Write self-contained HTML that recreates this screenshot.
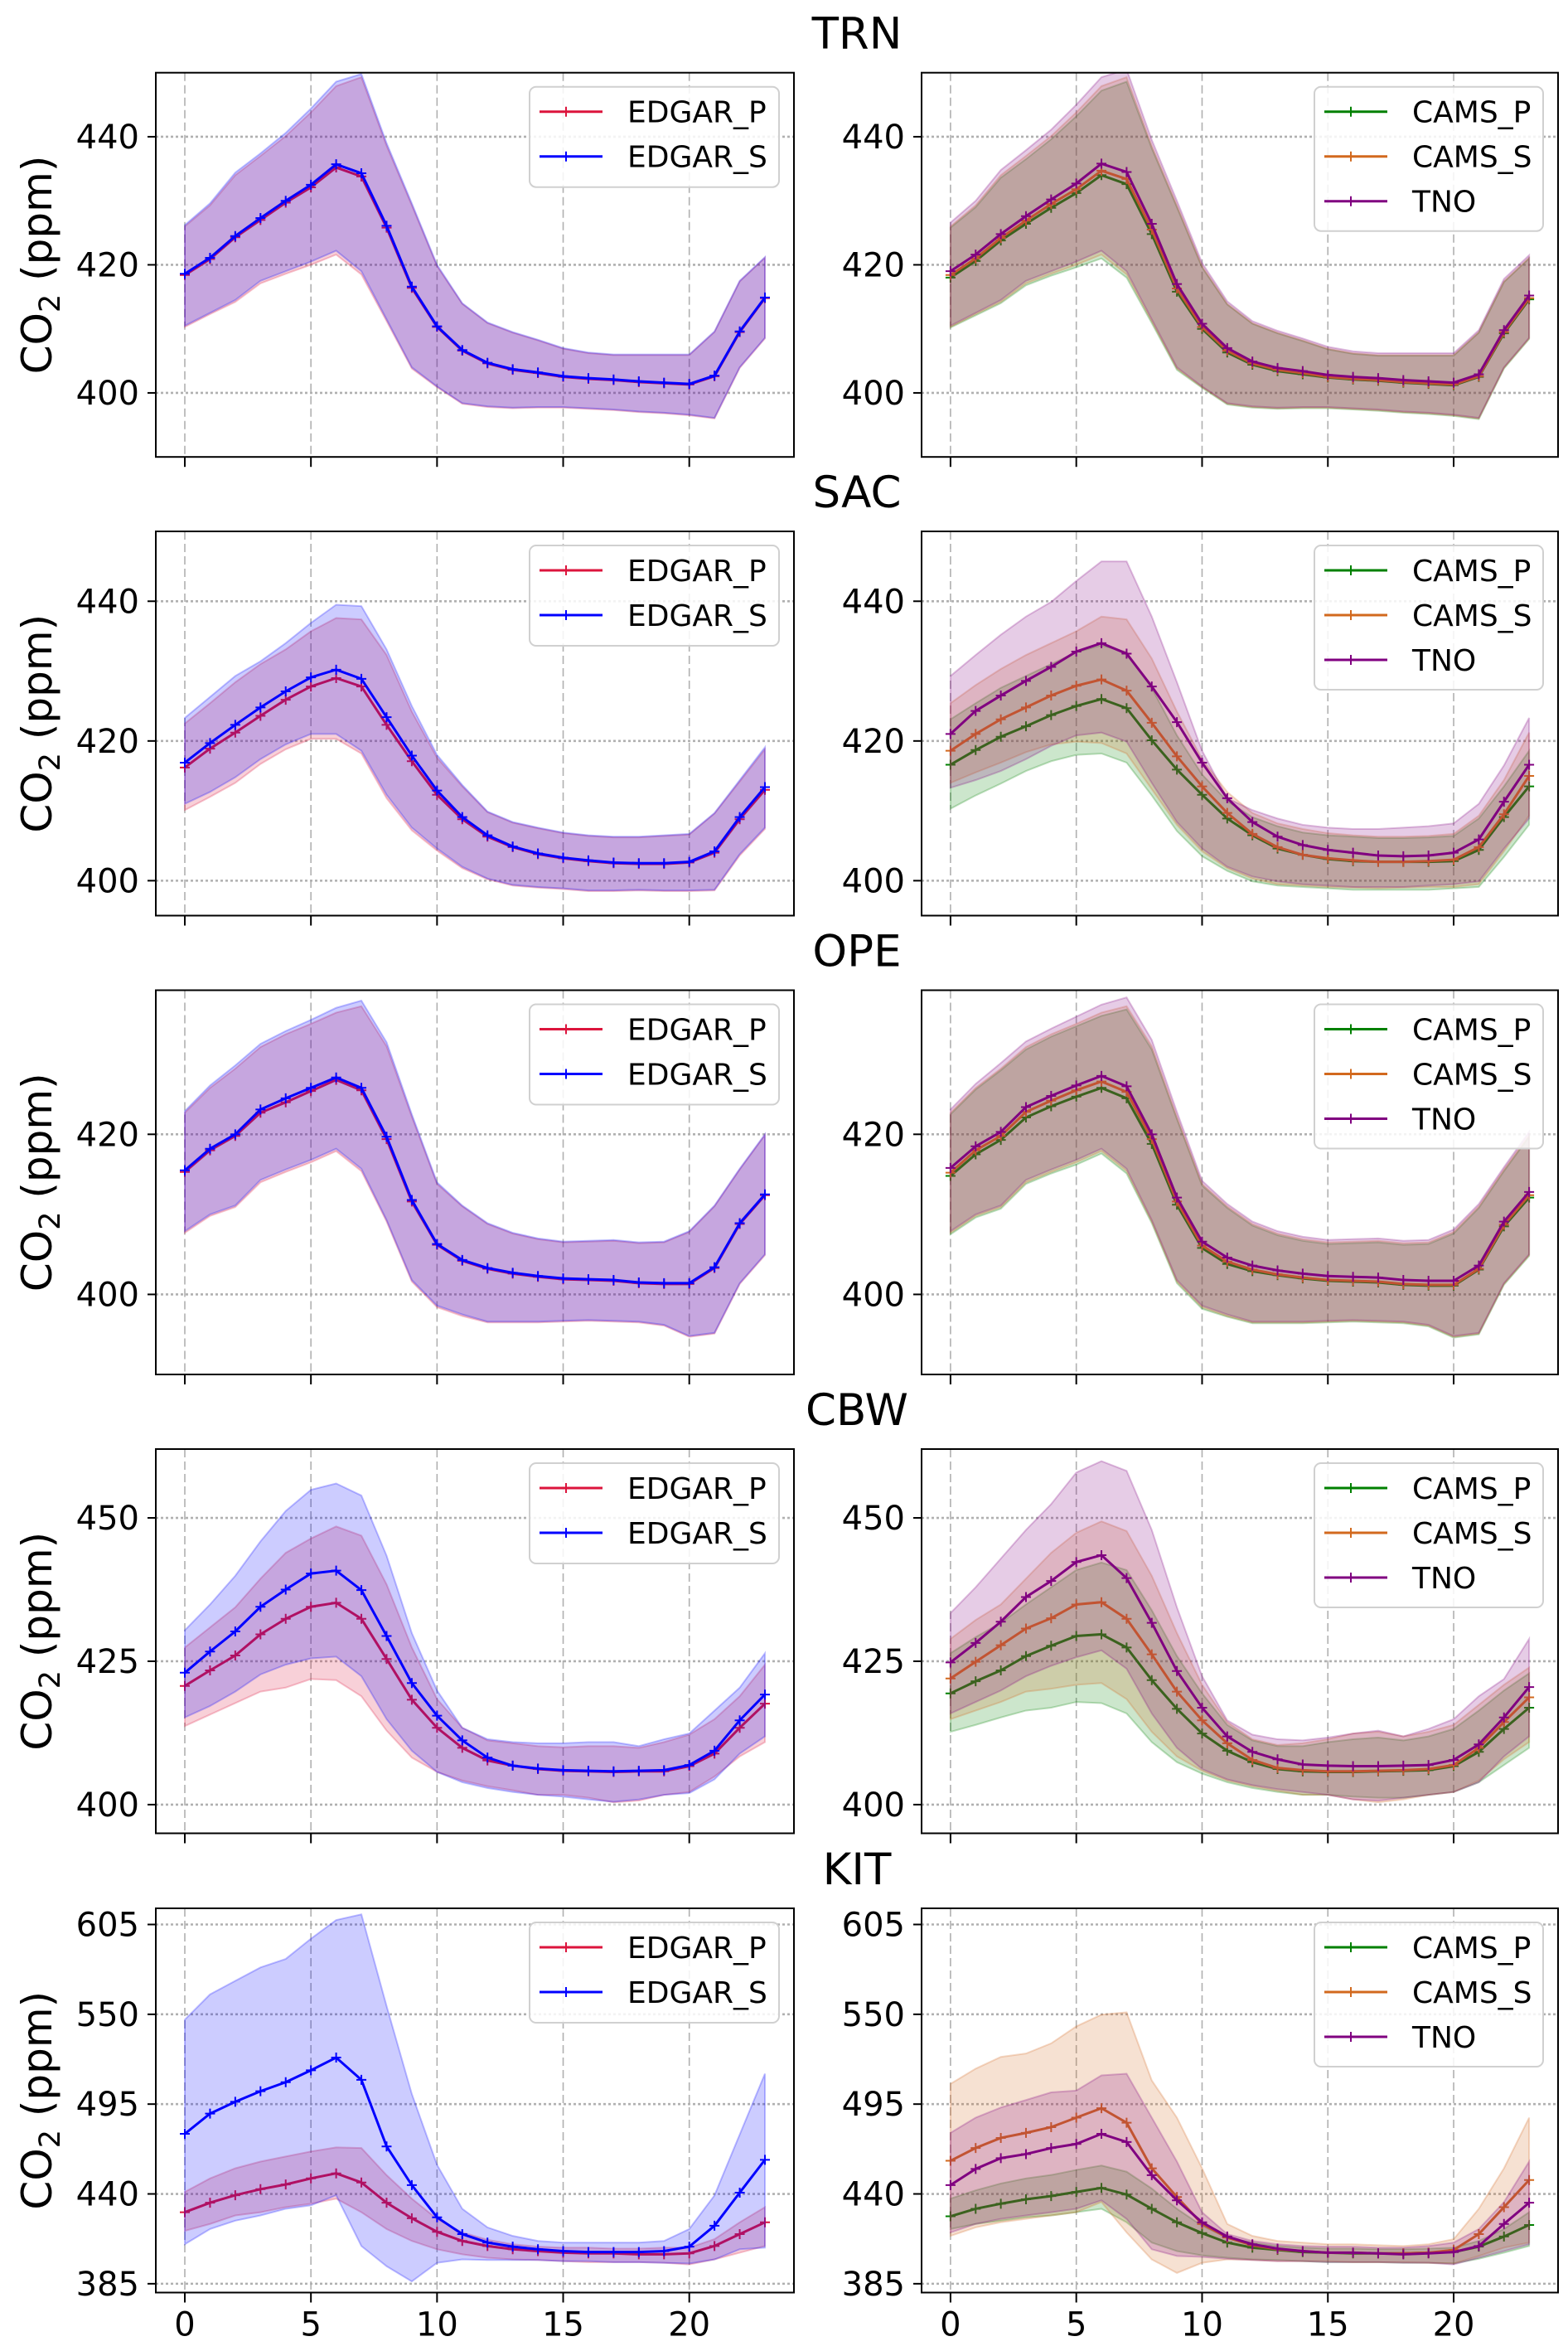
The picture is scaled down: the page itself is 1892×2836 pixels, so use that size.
<!DOCTYPE html>
<html><head><meta charset="utf-8"><title>CO2 diurnal cycles</title>
<style>
html,body{margin:0;padding:0;background:#fff;}
svg{display:block;font-family:"DejaVu Sans","Liberation Sans",sans-serif;}
</style></head>
<body>
<svg id="fig" xmlns="http://www.w3.org/2000/svg" width="1892" height="2836" viewBox="0 0 1892 2836">
<rect x="0" y="0" width="1892" height="2836" fill="#fff"/>
</svg>
<script>
const hours = [0,1,2,3,4,5,6,7,8,9,10,11,12,13,14,15,16,17,18,19,20,21,22,23];
const xTicks = [0,5,10,15,20];
const stationNames = ['TRN','SAC','OPE','CBW','KIT'];
const leftNames = ['EDGAR_P','EDGAR_S'];
const rightNames = ['CAMS_P','CAMS_S','TNO'];
const yTicksTRN = [400,420,440];
const yTicksSAC = [400,420,440];
const yTicksOPE = [400,420];
const yTicksCBW = [400,425,450];
const yTicksKIT = [385,440,495,550,605];
const yLimTRN = [390,450];
const yLimSAC = [395,450];
const yLimOPE = [390,438];
const yLimCBW = [395,462];
const yLimKIT = [379.6,614.9];

// TRN
const trn_ep = [418.4,420.9,424.3,427,429.7,432.1,435.2,433.8,425.8,416.4,410.3,406.6,404.6,403.6,403.1,402.5,402.2,402,401.7,401.5,401.3,402.6,409.5,414.8];
const trn_ep_hi = [426,429.3,434,437,440.1,443.8,447.9,449.3,438.6,429.3,419.8,413.9,410.9,409.4,408.2,406.9,406.2,405.9,405.9,405.9,405.9,409.5,417.4,421.1];
const trn_ep_lo = [410.3,412.3,414.2,417.1,418.6,420,421.6,418.5,411.2,403.8,400.9,398.3,397.8,397.6,397.7,397.7,397.5,397.3,397,396.8,396.5,396,403.9,408.5];
const trn_es = [418.6,421.1,424.5,427.3,430,432.5,435.7,434.3,426.1,416.6,410.4,406.7,404.7,403.7,403.2,402.6,402.3,402.1,401.8,401.6,401.4,402.7,409.6,414.9];
const trn_es_hi = [426.2,429.6,434.4,437.4,440.6,444.4,448.6,449.8,439,429.6,420,414,411,409.5,408.3,407,406.3,406,406,406,406,409.6,417.5,421.2];
const trn_es_lo = [410.5,412.5,414.5,417.5,419,420.5,422.2,419,411.5,404,401,398.4,397.9,397.7,397.8,397.8,397.6,397.4,397.1,396.9,396.6,396.1,404,408.6];
const trn_cp = [418,420.6,423.8,426.4,428.9,431.2,434,432.6,424.8,415.8,410,406.3,404.4,403.4,402.9,402.4,402.1,401.9,401.6,401.4,401.2,402.5,409.3,414.6];
const trn_cp_hi = [425.8,429,433.6,436.5,439.6,443.2,447.2,448.6,438.2,429,419.6,413.8,410.8,409.3,408.1,406.8,406.1,405.8,405.8,405.8,405.8,409.4,417.3,421];
const trn_cp_lo = [410.2,412.1,414,416.8,418.3,419.6,421,418,410.9,403.6,400.8,398.2,397.7,397.5,397.6,397.6,397.4,397.2,396.9,396.7,396.4,395.9,403.8,408.4];
const trn_cs = [418.4,421,424.2,426.9,429.5,431.8,434.7,433.4,425.5,416.3,410.3,406.6,404.6,403.6,403.1,402.5,402.2,402,401.7,401.5,401.3,402.6,409.5,414.8];
const trn_cs_hi = [426,429.3,434,437,440.1,443.8,447.9,449.3,438.6,429.3,419.8,413.9,410.9,409.4,408.2,406.9,406.2,405.9,405.9,405.9,405.9,409.5,417.4,421.1];
const trn_cs_lo = [410.3,412.3,414.2,417.1,418.6,420,421.6,418.5,411.2,403.8,400.9,398.3,397.8,397.6,397.7,397.7,397.5,397.3,397,396.8,396.5,396,403.9,408.5];
const trn_tno = [419,421.6,424.8,427.6,430.2,432.7,435.8,434.5,426.4,417,410.8,407,404.9,403.9,403.4,402.8,402.5,402.3,402,401.8,401.6,402.9,409.8,415.2];
const trn_tno_hi = [426.6,430,434.8,437.9,441.1,445,449.3,450.5,439.5,430,420.3,414.3,411.2,409.7,408.5,407.2,406.5,406.2,406.2,406.2,406.2,409.8,417.8,421.5];
const trn_tno_lo = [410.5,412.5,414.5,417.5,419,420.5,422.2,419,411.5,404,401,398.4,397.9,397.7,397.8,397.8,397.6,397.4,397.1,396.9,396.6,396.1,404,408.6];

// SAC
const sac_ep = [416.2,418.9,421.2,423.6,425.9,427.8,429,427.8,422.3,417.1,412.3,408.8,406.3,404.8,403.8,403.2,402.8,402.5,402.4,402.4,402.6,404,408.8,413];
const sac_ep_hi = [422.5,425.4,428.4,431,433.1,435.7,437.6,437.4,432.3,424.2,417.6,413.5,409.8,408.3,407.5,406.8,406.4,406.2,406.2,406.4,406.6,409.6,414.2,418.8];
const sac_ep_lo = [410.1,412,414,416.7,418.8,420.3,420.3,418.2,411.8,407.2,404.3,401.8,400.2,399.3,399,398.8,398.5,398.5,398.6,398.5,398.5,398.6,403.6,407.4];
const sac_es = [416.9,419.7,422.3,424.8,427.1,429.1,430.2,428.9,423.4,417.9,412.9,409.1,406.5,404.9,403.9,403.3,402.9,402.6,402.5,402.5,402.7,404.2,409.1,413.4];
const sac_es_hi = [423.3,426.3,429.3,431.4,434,436.9,439.5,439.3,433.1,425,418,413.7,409.9,408.4,407.6,406.9,406.5,406.3,406.3,406.5,406.7,409.7,414.4,419.1];
const sac_es_lo = [411,412.7,414.8,417.4,419.5,421,421,418.6,412.3,407.6,404.6,402,400.3,399.4,399.1,398.9,398.6,398.6,398.7,398.6,398.6,398.7,403.8,407.6];
const sac_cp = [416.6,418.7,420.6,422.1,423.7,425,426,424.7,420.1,415.9,412.3,408.9,406.5,404.6,403.7,403.1,402.8,402.7,402.7,402.7,402.8,404.4,409.1,413.5];
const sac_cp_hi = [423.1,425.4,427.6,429.3,431,432.7,433.7,432.7,427.6,420.8,415.2,411.4,409.1,407.8,406.9,406.5,406.3,406.1,406.1,406.2,406.4,408.9,413.5,418.6];
const sac_cp_lo = [410.3,412.2,413.9,415.7,417.1,418,418.2,416.9,412.2,407.1,403.5,401.4,399.9,399.3,399.1,398.9,398.7,398.7,398.7,398.7,398.9,399.1,403.4,408];
const sac_cs = [418.6,421,423.1,424.8,426.5,427.9,428.8,427.2,422.6,417.8,413.5,409.7,406.7,404.8,403.7,403.2,402.9,402.7,402.7,402.8,403,404.8,409.5,415];
const sac_cs_hi = [425.4,428,430.3,432.3,434,435.7,437.8,437.4,431.8,424.2,417.4,412.7,409.7,408.2,407.4,406.8,406.5,406.3,406.3,406.4,406.7,409.3,414.4,421.2];
const sac_cs_lo = [414,415.5,416.9,418.4,419.5,419.9,419.7,418.2,413.1,408,404.2,401.8,400.3,399.5,399.3,399.1,399,398.9,399,399.1,399.1,399.5,404.2,409.3];
const sac_tno = [421,424.3,426.5,428.6,430.6,432.8,434,432.5,427.8,422.7,416.9,411.8,408.4,406.3,405.1,404.4,404,403.6,403.5,403.6,404,405.9,411.3,416.6];
const sac_tno_hi = [429.3,432.3,435.2,437.8,439.9,442.9,445.7,445.7,437.8,428.4,418.6,411.8,410.1,408.9,408,407.6,407.4,407.4,407.6,407.8,408.2,411,416.5,423.3];
const sac_tno_lo = [413.3,414.4,415.7,417.4,419.3,420.8,421.2,419.9,414,408.4,404.6,402,400.6,399.9,399.5,399.3,399.1,399.1,399.1,399.3,399.5,399.9,404.6,408.9];

// OPE
const ope_ep = [415.3,418,419.8,422.7,424,425.4,426.8,425.5,419.4,411.6,406.2,404.2,403.2,402.6,402.2,401.9,401.8,401.7,401.4,401.3,401.3,403.3,408.8,412.4];
const ope_ep_hi = [422.7,425.8,428.2,430.9,432.5,433.8,435.2,436,431,422.2,413.8,411,408.8,407.6,406.9,406.5,406.6,406.7,406.4,406.5,407.8,411,415.6,419.9];
const ope_ep_lo = [407.7,409.8,410.9,414,415.3,416.5,417.9,415.4,409.1,401.6,398.4,397.3,396.5,396.5,396.5,396.6,396.7,396.6,396.5,396.1,394.7,395.1,401.3,404.9];
const ope_es = [415.5,418.2,420,423.1,424.5,425.8,427.1,425.8,419.7,411.8,406.3,404.3,403.3,402.7,402.3,402,401.9,401.8,401.5,401.4,401.4,403.4,408.9,412.5];
const ope_es_hi = [422.9,426.1,428.6,431.3,432.9,434.3,435.8,436.7,431.5,422.5,414,411.1,408.9,407.7,407,406.6,406.7,406.8,406.5,406.6,407.9,411.1,415.7,420];
const ope_es_lo = [407.9,410,411.1,414.3,415.6,416.8,418.2,415.7,409.3,401.8,398.6,397.5,396.6,396.6,396.6,396.7,396.8,396.7,396.6,396.2,394.8,395.2,401.4,405];
const ope_cp = [414.8,417.5,419.3,422.1,423.5,424.7,425.8,424.5,418.8,411.2,405.8,403.8,402.9,402.4,402,401.7,401.6,401.5,401.2,401.1,401.1,403.1,408.5,412.1];
const ope_cp_hi = [422.5,425.6,428,430.6,432.2,433.5,434.8,435.6,430.6,421.9,413.6,410.8,408.6,407.4,406.7,406.3,406.4,406.5,406.2,406.3,407.6,410.8,415.4,419.7];
const ope_cp_lo = [407.5,409.6,410.7,413.8,415.1,416.2,417.6,415.1,408.9,401.4,398.2,397.2,396.4,396.4,396.4,396.5,396.6,396.5,396.4,396,394.6,395,401.2,404.8];
const ope_cs = [415.2,418,419.8,422.8,424.2,425.5,426.6,425.3,419.4,411.6,406.1,404.1,403.1,402.5,402.1,401.8,401.7,401.6,401.3,401.2,401.2,403.2,408.7,412.4];
const ope_cs_hi = [422.7,425.8,428.2,430.9,432.5,433.8,435.2,436,431,422.2,413.8,411,408.8,407.6,406.9,406.5,406.6,406.7,406.4,406.5,407.8,411,415.6,419.9];
const ope_cs_lo = [407.7,409.8,410.9,414,415.3,416.5,417.9,415.4,409.1,401.6,398.4,397.3,396.5,396.5,396.5,396.6,396.7,396.6,396.5,396.1,394.7,395.1,401.3,404.9];
const ope_tno = [415.8,418.5,420.3,423.4,424.8,426.1,427.3,426,420,412.1,406.6,404.6,403.6,403,402.6,402.3,402.2,402.1,401.8,401.7,401.7,403.6,409.1,412.8];
const ope_tno_hi = [423.1,426.3,428.9,431.6,433.2,434.7,436.2,437.1,431.8,422.8,414.2,411.3,409.1,407.9,407.2,406.8,406.9,407,406.7,406.8,408.1,411.3,415.9,420.3];
const ope_tno_lo = [407.9,410,411.1,414.3,415.6,416.8,418.2,415.7,409.3,401.8,398.6,397.5,396.6,396.6,396.6,396.7,396.8,396.7,396.6,396.2,394.8,395.2,401.4,405];

// CBW
const cbw_ep = [420.7,423.4,426,429.7,432.4,434.5,435.2,432.4,425.4,418.3,413.4,409.9,407.7,406.8,406.2,405.9,405.8,405.7,405.8,405.8,406.7,408.9,413.4,417.6];
const cbw_ep_hi = [427.4,430.9,434.4,439.4,443.9,446.4,448.5,446.9,438.4,427.4,418.4,413.4,411.2,410.7,410.2,410,410.2,410.2,409.9,410.9,412.2,414.9,418.9,424.4];
const cbw_ep_lo = [413.7,415.7,417.7,419.7,420.4,421.9,421.7,418.9,412.9,408.2,405.7,404.2,403.2,402.5,401.7,401.7,401.2,400.4,400.7,401.7,402.2,404.9,408.4,410.9];
const cbw_es = [423,426.7,430.2,434.5,437.5,440.3,440.8,437.4,429.4,421.2,415.5,411.2,408.2,406.8,406.3,406,405.9,405.8,405.9,406,406.9,409.4,414.7,419.2];
const cbw_es_hi = [430.4,434.9,439.9,445.9,451.2,454.9,456,453.9,443.4,429.9,419.9,413.4,411.4,410.9,410.7,410.7,410.9,410.9,410.2,411.4,412.4,416.4,420.4,426.4];
const cbw_es_lo = [415.2,417.2,419.7,422.7,424.4,425.5,425.8,422.4,414.9,409.4,405.7,403.9,402.9,402.2,401.7,401.4,400.9,400.5,400.9,401.7,402,404.4,408.9,411.9];
const cbw_cp = [419.4,421.5,423.4,425.9,427.7,429.4,429.7,427.4,421.7,416.7,412.4,409.4,407.4,406.2,405.8,405.7,405.7,405.8,405.9,406,406.7,409.2,413.2,416.9];
const cbw_cp_hi = [426.4,429.2,431.7,434.9,437.9,440.9,442.2,440.9,433.9,425.9,419.4,413.9,411.2,410.2,410.2,410.9,411.4,411.7,411.2,411.9,413.2,416.4,419.9,422.9];
const cbw_cp_lo = [412.7,413.9,415.2,416.4,416.9,417.9,417.7,415.9,410.9,407.4,405.4,403.9,402.9,402.2,401.7,401.7,401.4,401.2,401.2,401.7,402.2,403.9,406.9,409.9];
const cbw_cs = [422,424.9,427.8,430.7,432.5,434.9,435.3,432.4,426.2,419.7,414.7,410.7,407.8,406.4,406,405.8,405.8,405.9,406,406.2,406.9,409.9,414.4,418.7];
const cbw_cs_hi = [428.9,432.2,434.9,439.4,443.9,447.4,449.4,447.7,439.9,429.9,420.9,414.4,411.4,410.4,410.7,411.4,412.4,412.7,411.9,412.7,413.9,417.4,420.9,423.9];
const cbw_cs_lo = [414.9,416.4,417.9,419.7,420.2,420.9,421.2,418.4,412.7,408.4,405.9,404.2,403.2,402.4,401.7,401.7,400.9,400.4,400.9,401.7,402.2,404.2,407.9,410.9];
const cbw_tno = [424.8,428.2,431.9,436.2,439,442.3,443.5,439.5,431.7,423.3,416.9,411.9,409.2,407.9,407,406.8,406.7,406.7,406.8,406.9,407.8,410.5,415.2,420.5];
const cbw_tno_hi = [433.4,437.9,442.9,447.9,452.4,457.9,459.9,458.2,447.9,434.4,422.4,414.7,412.2,411.4,411.2,411.7,412.4,412.9,411.9,413.2,414.9,418.9,421.9,428.9];
const cbw_tno_lo = [415.9,417.9,419.9,422.4,424.2,425.7,426.9,423.7,415.9,409.9,406.2,404.4,403.4,402.7,402.2,401.7,400.9,400.7,401.2,401.7,402.2,403.9,408.4,411.9];

// KIT
const kit_ep = [428.8,434.6,439.2,442.9,445.8,449.5,452.6,447,434.6,425.1,416.8,411.2,408.1,406.1,405,404,403.6,403.6,403,403,403.6,408.1,415.4,422.6];
const kit_ep_hi = [441.2,449.5,455.7,459.8,462.9,466,468.5,468.1,451.5,437.1,424.7,416.4,411.9,409.2,407.7,407.1,407.1,406.5,406.5,407.1,407.1,412.3,422.6,431.9];
const kit_ep_lo = [417.4,421.6,426.8,428.8,431.9,434,437.1,428.8,418.5,411.2,406.1,403,400.9,399.9,399.5,398.8,398.2,398.2,398.2,397.8,396.8,399.9,404,408.1];
const kit_es = [476.8,489.2,496.4,502.9,508.4,515.7,523.5,509.9,469.1,445.4,425.7,415.4,410.2,407.7,406.1,405,404.4,404.4,404.4,405,407.7,420.5,440.8,460.9];
const kit_es_hi = [546.7,562.2,570.5,578.7,583.9,596.3,607.7,611.2,555,501.2,457.8,430.9,419.5,414.3,411.2,410.2,410.2,410.2,410.2,411.2,418.5,439.1,476.4,513.6];
const kit_es_lo = [409.2,418.5,423.6,426.8,430.9,433,439.2,408.1,395.7,386.4,397.8,399.9,399.5,399.5,399.5,398.8,398.8,398.2,398.2,397.8,397.4,399.9,406.1,407.1];
const kit_cp = [426.3,430.9,434,436.7,438.7,441.2,443.7,439.6,430.9,422.6,416,410.2,407.1,405.7,404.4,404,403.6,403.6,403.6,404,404.4,407.7,413.9,421];
const kit_cp_hi = [437.1,442.2,446.4,449.5,451.6,454.7,457.4,453.6,443.3,430.9,420.5,413.3,410.2,408.1,407.1,406.5,406.5,406.1,406.1,406.5,407.1,411.2,418.5,428.8];
const kit_cp_lo = [418.5,421.6,423.6,425.7,426.8,428.8,430.9,422.6,410.2,405,402.4,400.9,399.9,399.5,398.8,398.2,398.2,398.2,397.8,397.8,397.4,400.3,404,408.1];
const kit_cs = [460.3,468.1,474.3,477.4,480.9,486.7,492.5,483.6,455.7,438.1,421.6,413.3,408.6,406.1,405,404,404,403.6,403.6,404,405.7,415.4,431.9,448.5];
const kit_cs_hi = [507.4,516.7,523.9,526,532.2,542.6,549.8,551.2,509.5,486.7,455.7,421.6,414.3,411.2,410.2,409.2,409.2,408.6,408.1,409.2,412.3,430.9,455.7,486.7];
const kit_cs_lo = [414.3,419.5,422.6,424.7,426.8,428.8,435,416.4,399.9,391.6,397.8,399.9,399.5,398.8,398.8,398.8,398.2,398.2,398.2,397.8,397.4,402,407.1,410.2];
const kit_tno = [445.4,455.3,461.9,464.4,468.1,470.6,476.8,471.8,451.5,436.1,422.6,413.9,409.2,406.5,405,404,404,403.6,403,403.6,404.4,408.1,421.6,434.6];
const kit_tno_hi = [477.4,486.7,492.9,497.5,502.2,503.3,512.6,513.6,486.7,459.8,428.8,415.4,411.2,409.2,408.1,407.7,407.7,407.1,407.1,408.1,410.2,418.5,435,459.8];
const kit_tno_lo = [416.4,421.6,424.7,426.8,428.8,430.9,436.1,424.7,406.1,402,401.4,400.3,399.5,398.8,398.8,398.2,398.2,398.2,397.8,397.8,396.8,400.9,405,409.2];

const C_EP = '#dc143c', C_ES = '#0000ff', C_CP = '#008000', C_CS = '#d2691e', C_TNO = '#800080';
const SVGNS = 'http://www.w3.org/2000/svg';
const svg = document.getElementById('fig');
const XMIN = -1.15, XMAX = 24.15;
const LX0 = 188, LX1 = 958, RX0 = 1112, RX1 = 1880;
const rowTops = [87.7, 641, 1194.5, 1748, 2302];
const PH = 463.5;

function mk(tag, attrs, parent) {
  const e = document.createElementNS(SVGNS, tag);
  for (const k in attrs) e.setAttribute(k, attrs[k]);
  (parent || svg).appendChild(e);
  return e;
}

let clipId = 0;
function drawPanel(station, side, x0, x1, top, ylim, yticks, series, names, showX, showY) {
  const g = mk('g', {});
  
  
  const sx = v => x0 + (v - XMIN) / (XMAX - XMIN) * (x1 - x0);
  const sy = v => top + PH - (v - ylim[0]) / (ylim[1] - ylim[0]) * PH;
  const cid = 'clip' + (clipId++);
  const cp = mk('clipPath', {id: cid}, g);
  mk('rect', {x: x0, y: top, width: x1 - x0, height: PH}, cp);
  const grid = mk('g', {}, g);
  
  
  xTicks.forEach(t => {
    mk('line', {x1: sx(t), x2: sx(t), y1: top, y2: top + PH, stroke: '#b0b0b0', 'stroke-width': 1.6, 'stroke-dasharray': '10,5'}, grid);
  });
  yticks.forEach(t => {
    mk('line', {x1: x0, x2: x1, y1: sy(t), y2: sy(t), stroke: '#b0b0b0', 'stroke-width': 2.6, 'stroke-dasharray': '3,3'}, grid);
  });
  const data = mk('g', {'clip-path': 'url(#' + cid + ')'}, g);
  series.forEach((s, i) => {
    const pts = hours.map((h, k) => sx(h) + ',' + sy(s.hi[k])).concat(hours.slice().reverse().map((h, k) => sx(h) + ',' + sy(s.lo[hours.length - 1 - k])));
    const band = mk('polygon', {points: pts.join(' '), fill: s.color, 'fill-opacity': 0.2, stroke: s.color, 'stroke-opacity': 0.25, 'stroke-width': 2}, data);
    
    
    const line = mk('polyline', {points: hours.map((h, k) => sx(h) + ',' + sy(s.mean[k])).join(' '), fill: 'none', stroke: s.color, 'stroke-width': 3}, data);
    
    
    let d = '';
    hours.forEach((h, k) => { const px = sx(h), py = sy(s.mean[k]); d += 'M' + (px - 6) + ' ' + py + 'h12M' + px + ' ' + (py - 6) + 'v12'; });
    const mks = mk('path', {d: d, stroke: s.color, 'stroke-width': 2, fill: 'none'}, data);
    
    
  });
  const frame = mk('rect', {x: x0, y: top, width: x1 - x0, height: PH, fill: 'none', stroke: '#000', 'stroke-width': 2}, g);
  
  
  xTicks.forEach(t => {
    mk('line', {x1: sx(t), x2: sx(t), y1: top + PH, y2: top + PH + 12, stroke: '#000', 'stroke-width': 2}, g);
    if (showX) {
      const tl = mk('text', {x: sx(t), y: top + PH + 52, 'font-size': 40, 'text-anchor': 'middle', fill: '#000'}, g);
      tl.textContent = t;
      
      
    }
  });
  yticks.forEach(t => {
    mk('line', {x1: x0 - 10, x2: x0, y1: sy(t), y2: sy(t), stroke: '#000', 'stroke-width': 2}, g);
    const tl = mk('text', {x: x0 - 20, y: sy(t) + 14, 'font-size': 40, 'text-anchor': 'end', fill: '#000'}, g);
    tl.textContent = t;
    
    
  });
  if (showY) {
    const cy = top + PH / 2;
    const yl = mk('text', {x: 0, y: 0, 'font-size': 50, 'text-anchor': 'middle', fill: '#000', transform: 'translate(62,' + cy + ') rotate(-90)'}, g);
    yl.innerHTML = 'CO<tspan font-size="35" dy="10">2</tspan><tspan dy="-10"> (ppm)</tspan>';
    
    
  }
  // legend
  const lw = names.length === 2 ? 301 : 276;
  const lh = names.length === 2 ? 121 : 174;
  const lx = x1 - 18 - lw, ly = top + 17;
  const leg = mk('g', {}, g);
  
  
  mk('rect', {x: lx, y: ly, width: lw, height: lh, rx: 8, fill: '#fff', 'fill-opacity': 0.85, stroke: '#d0d0d0', 'stroke-width': 2}, leg);
  names.forEach((n, i) => {
    const ey = ly + 30 + i * 54;
    const ent = mk('g', {}, leg);
    
    
    mk('line', {x1: lx + 12, x2: lx + 88, y1: ey, y2: ey, stroke: series[i].color, 'stroke-width': 3}, ent);
    mk('path', {d: 'M' + (lx + 44) + ' ' + (ey - 6) + 'v12M' + (lx + 38) + ' ' + ey + 'h12', stroke: series[i].color, 'stroke-width': 2}, ent);
    const tx = mk('text', {x: lx + 118, y: ey + 13, 'font-size': 36, fill: '#000'}, ent);
    tx.textContent = n;
  });
}

const stationData = [
  {ylim: yLimTRN, yt: yTicksTRN,
   L: [{mean: trn_ep, lo: trn_ep_lo, hi: trn_ep_hi, color: C_EP}, {mean: trn_es, lo: trn_es_lo, hi: trn_es_hi, color: C_ES}],
   R: [{mean: trn_cp, lo: trn_cp_lo, hi: trn_cp_hi, color: C_CP}, {mean: trn_cs, lo: trn_cs_lo, hi: trn_cs_hi, color: C_CS}, {mean: trn_tno, lo: trn_tno_lo, hi: trn_tno_hi, color: C_TNO}]},
  {ylim: yLimSAC, yt: yTicksSAC,
   L: [{mean: sac_ep, lo: sac_ep_lo, hi: sac_ep_hi, color: C_EP}, {mean: sac_es, lo: sac_es_lo, hi: sac_es_hi, color: C_ES}],
   R: [{mean: sac_cp, lo: sac_cp_lo, hi: sac_cp_hi, color: C_CP}, {mean: sac_cs, lo: sac_cs_lo, hi: sac_cs_hi, color: C_CS}, {mean: sac_tno, lo: sac_tno_lo, hi: sac_tno_hi, color: C_TNO}]},
  {ylim: yLimOPE, yt: yTicksOPE,
   L: [{mean: ope_ep, lo: ope_ep_lo, hi: ope_ep_hi, color: C_EP}, {mean: ope_es, lo: ope_es_lo, hi: ope_es_hi, color: C_ES}],
   R: [{mean: ope_cp, lo: ope_cp_lo, hi: ope_cp_hi, color: C_CP}, {mean: ope_cs, lo: ope_cs_lo, hi: ope_cs_hi, color: C_CS}, {mean: ope_tno, lo: ope_tno_lo, hi: ope_tno_hi, color: C_TNO}]},
  {ylim: yLimCBW, yt: yTicksCBW,
   L: [{mean: cbw_ep, lo: cbw_ep_lo, hi: cbw_ep_hi, color: C_EP}, {mean: cbw_es, lo: cbw_es_lo, hi: cbw_es_hi, color: C_ES}],
   R: [{mean: cbw_cp, lo: cbw_cp_lo, hi: cbw_cp_hi, color: C_CP}, {mean: cbw_cs, lo: cbw_cs_lo, hi: cbw_cs_hi, color: C_CS}, {mean: cbw_tno, lo: cbw_tno_lo, hi: cbw_tno_hi, color: C_TNO}]},
  {ylim: yLimKIT, yt: yTicksKIT,
   L: [{mean: kit_ep, lo: kit_ep_lo, hi: kit_ep_hi, color: C_EP}, {mean: kit_es, lo: kit_es_lo, hi: kit_es_hi, color: C_ES}],
   R: [{mean: kit_cp, lo: kit_cp_lo, hi: kit_cp_hi, color: C_CP}, {mean: kit_cs, lo: kit_cs_lo, hi: kit_cs_hi, color: C_CS}, {mean: kit_tno, lo: kit_tno_lo, hi: kit_tno_hi, color: C_TNO}]}
];

stationData.forEach((sd, r) => {
  const top = rowTops[r];
  const last = r === stationData.length - 1;
  const title = mk('text', {x: 1034, y: top - 29, 'font-size': 53, 'text-anchor': 'middle', fill: '#000'});
  title.textContent = stationNames[r];
  
  
  drawPanel(stationNames[r], 'edgar', LX0, LX1, top, sd.ylim, sd.yt, sd.L, leftNames, last, true);
  drawPanel(stationNames[r], 'cams-tno', RX0, RX1, top, sd.ylim, sd.yt, sd.R, rightNames, last, false);
});
</script>
</body></html>
